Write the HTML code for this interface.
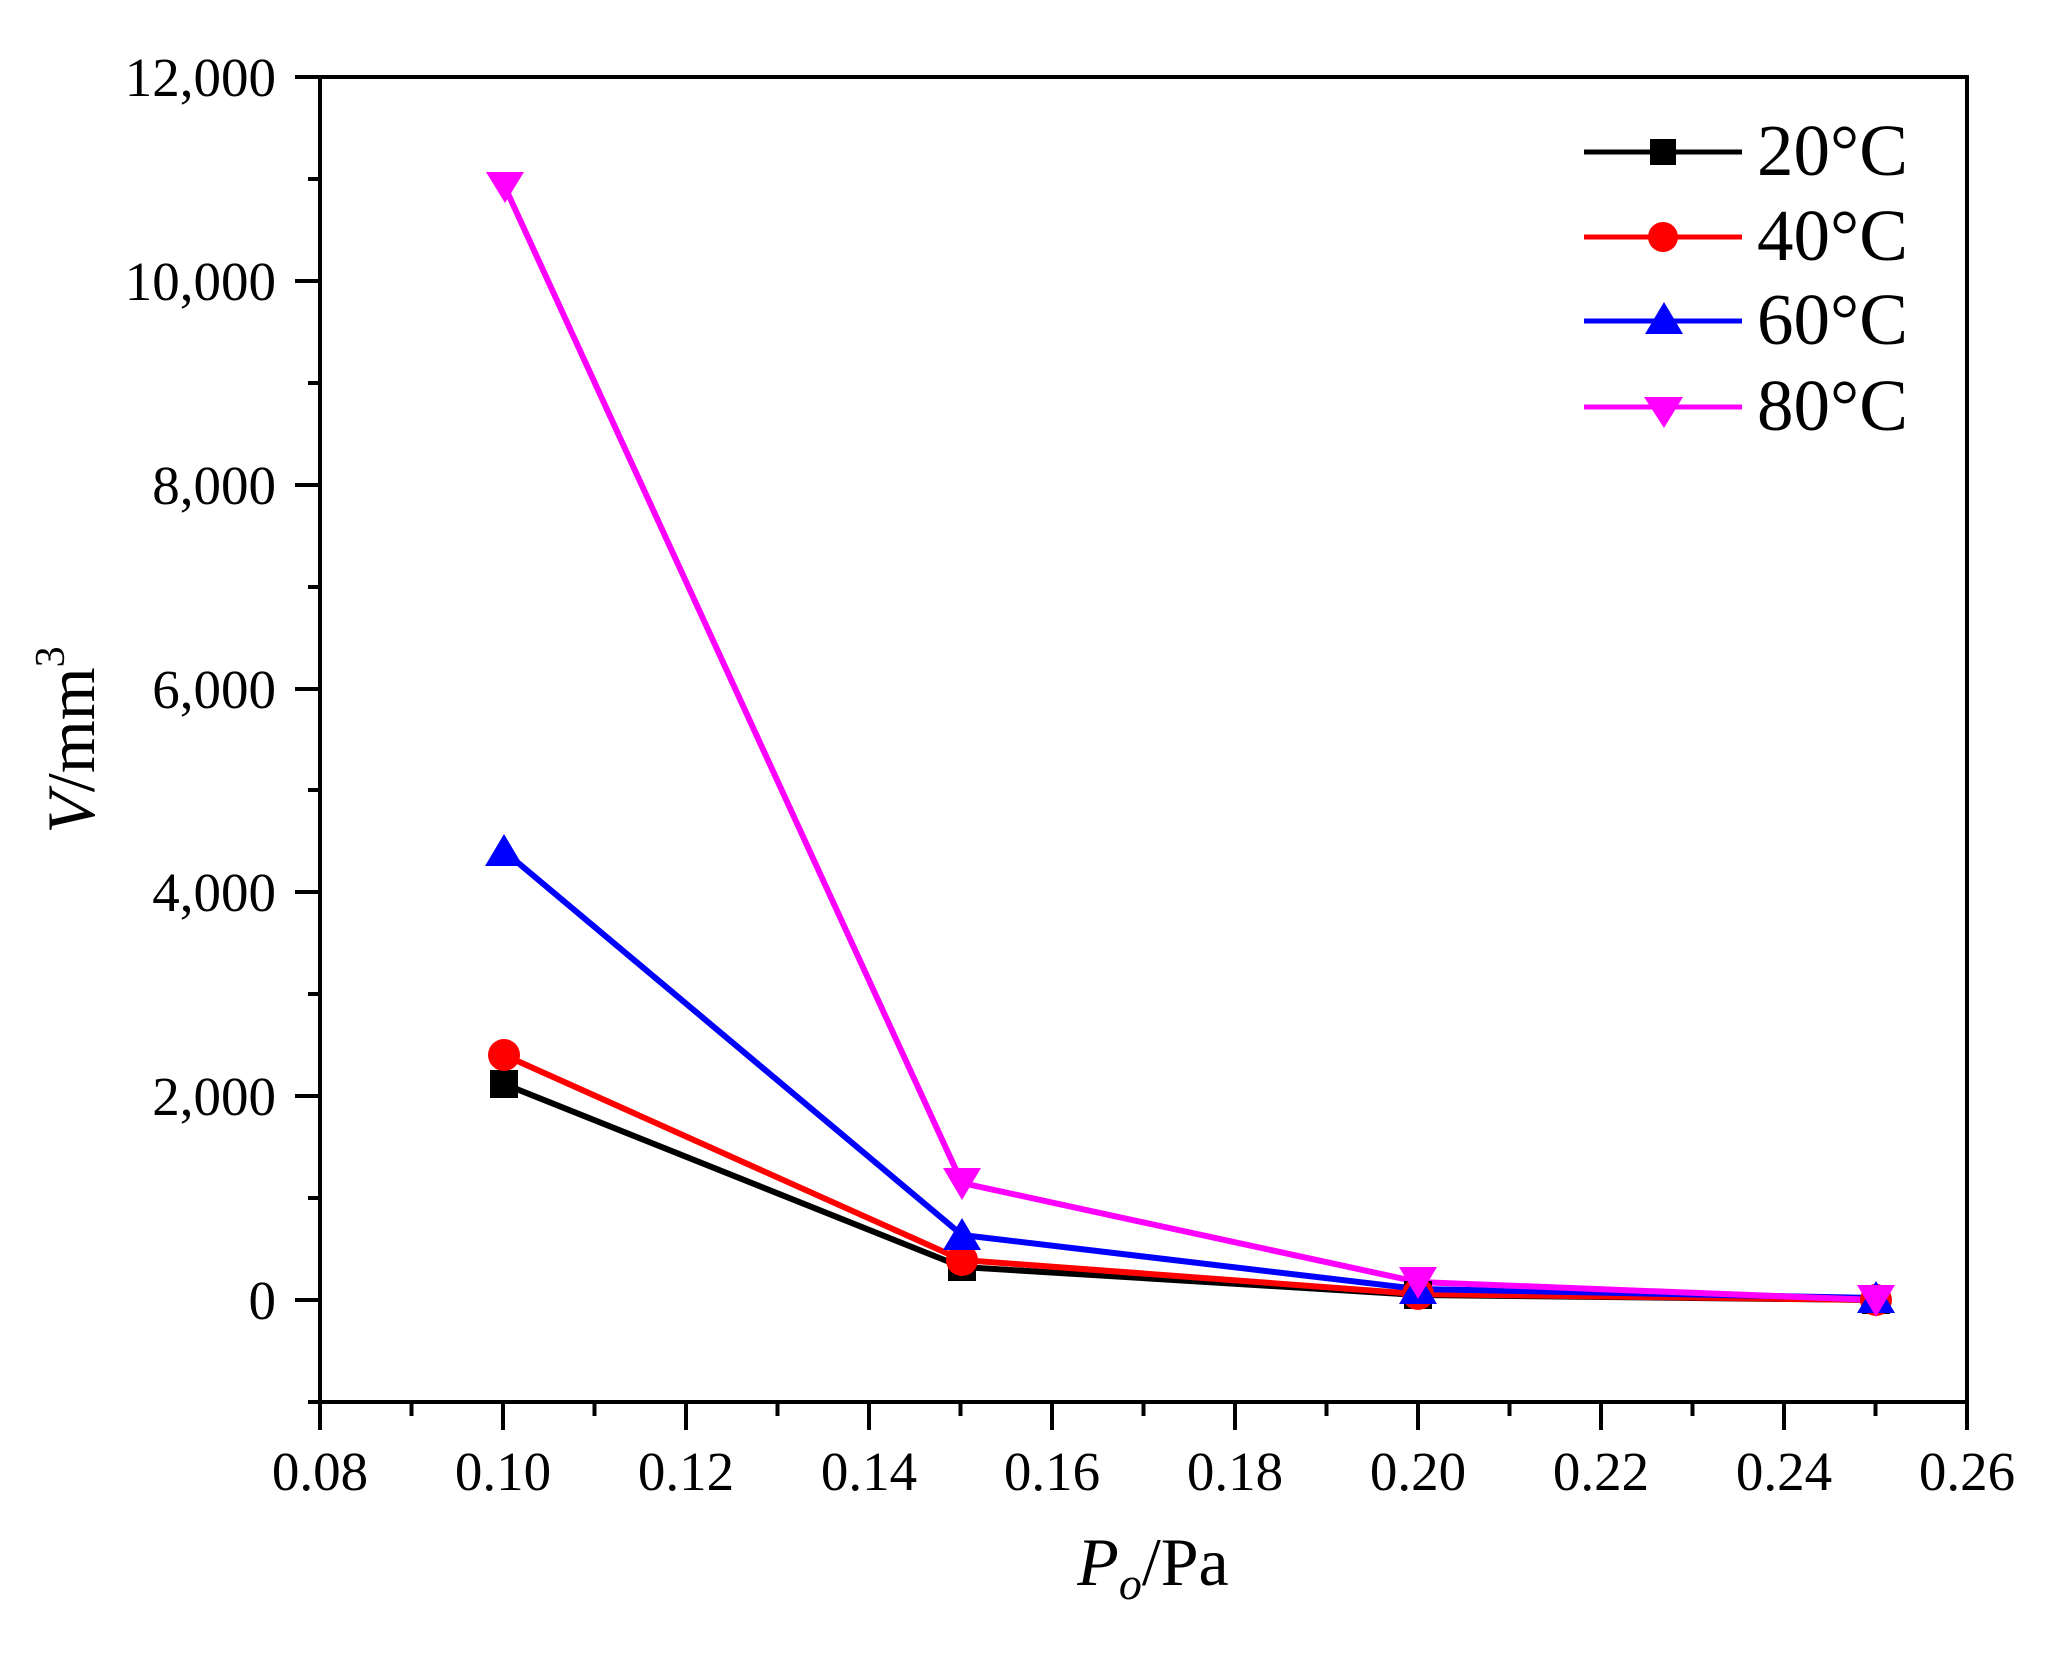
<!DOCTYPE html>
<html><head><meta charset="utf-8"><style>html,body{margin:0;padding:0;background:#fff}svg{display:block}</style></head>
<body>
<svg width="2068" height="1659" viewBox="0 0 2068 1659" xmlns="http://www.w3.org/2000/svg" font-family="'Liberation Serif',serif">
<rect width="2068" height="1659" fill="#fff"/>
<g stroke="#000" stroke-width="4" fill="none">
<rect x="320" y="77" width="1647" height="1325"/>
<path d="M295 77H320M295 281H320M295 485H320M295 689H320M295 892H320M295 1096H320M295 1300H320"/>
<path d="M308 179H320M308 383H320M308 587H320M308 790H320M308 994H320M308 1198H320M308 1402H320"/>
<path d="M320 1402V1430M503 1402V1430M686 1402V1430M869 1402V1430M1052 1402V1430M1235 1402V1430M1418 1402V1430M1601 1402V1430M1784 1402V1430M1967 1402V1430"/>
<path d="M411.5 1402V1416M594.5 1402V1416M777.5 1402V1416M960.5 1402V1416M1143.5 1402V1416M1326.5 1402V1416M1509.5 1402V1416M1692.5 1402V1416M1875.5 1402V1416"/>
</g>
<g font-size="55" text-anchor="end" fill="#000">
<text x="276" y="96">12,000</text>
<text x="276" y="300">10,000</text>
<text x="276" y="504">8,000</text>
<text x="276" y="708">6,000</text>
<text x="276" y="911">4,000</text>
<text x="276" y="1115">2,000</text>
<text x="276" y="1319">0</text>
</g>
<g font-size="55" text-anchor="middle" fill="#000">
<text x="320" y="1490">0.08</text><text x="503" y="1490">0.10</text><text x="686" y="1490">0.12</text>
<text x="869" y="1490">0.14</text><text x="1052" y="1490">0.16</text><text x="1235" y="1490">0.18</text>
<text x="1418" y="1490">0.20</text><text x="1601" y="1490">0.22</text><text x="1784" y="1490">0.24</text>
<text x="1967" y="1490">0.26</text>
</g>
<text x="1153" y="1585" font-size="68" text-anchor="middle"><tspan font-style="italic">P</tspan><tspan font-style="italic" font-size="46" dy="14">o</tspan><tspan dy="-14">/Pa</tspan></text>
<text transform="translate(94,740) rotate(-90)" font-size="68" text-anchor="middle"><tspan font-style="italic">V</tspan>/mm<tspan font-size="42" dy="-30">3</tspan></text>
<g fill="none" stroke-width="6" stroke-linejoin="round">
<polyline stroke="#000" points="504,1084 962,1267 1418,1295 1876,1300"/>
<polyline stroke="#f00" points="504,1055 962,1260 1418,1294 1876,1300"/>
<polyline stroke="#00f" points="504,851 962,1235 1418,1289 1876,1298"/>
<polyline stroke="#f0f" points="504,185 962,1183 1418,1282 1876,1300"/>
</g>
<g fill="#000"><rect x="490" y="1070" width="28" height="28"/><rect x="948" y="1253" width="28" height="28"/><rect x="1404" y="1281" width="28" height="28"/><rect x="1862" y="1286" width="28" height="28"/></g>
<g fill="#f00"><circle cx="504" cy="1055" r="16"/><circle cx="962" cy="1260" r="16"/><circle cx="1418" cy="1294" r="16"/><circle cx="1876" cy="1300" r="16"/></g>
<g fill="#00f"><path d="M504 834L523 866H485Z"/><path d="M962 1218L981 1250H943Z"/><path d="M1418 1272L1437 1304H1399Z"/><path d="M1876 1281L1895 1313H1857Z"/></g>
<g fill="#f0f"><path d="M486 172H524L505 203Z"/><path d="M943 1168H981L962 1200Z"/><path d="M1399 1267H1437L1418 1299Z"/><path d="M1857 1285H1895L1876 1317Z"/></g>
<g stroke-width="5">
<line x1="1584" y1="152" x2="1742" y2="152" stroke="#000"/>
<line x1="1584" y1="237" x2="1742" y2="237" stroke="#f00"/>
<line x1="1584" y1="321" x2="1742" y2="321" stroke="#00f"/>
<line x1="1584" y1="407" x2="1742" y2="407" stroke="#f0f"/>
</g>
<rect x="1650" y="139" width="26" height="26" fill="#000"/>
<circle cx="1663" cy="237" r="15" fill="#f00"/>
<path d="M1664 302L1683 334H1645Z" fill="#00f"/>
<path d="M1644 397H1683L1664 428Z" fill="#f0f"/>
<g font-size="73" fill="#000">
<text x="1757" y="175">20°C</text>
<text x="1757" y="260">40°C</text>
<text x="1757" y="344">60°C</text>
<text x="1757" y="430">80°C</text>
</g>
</svg>
</body></html>
